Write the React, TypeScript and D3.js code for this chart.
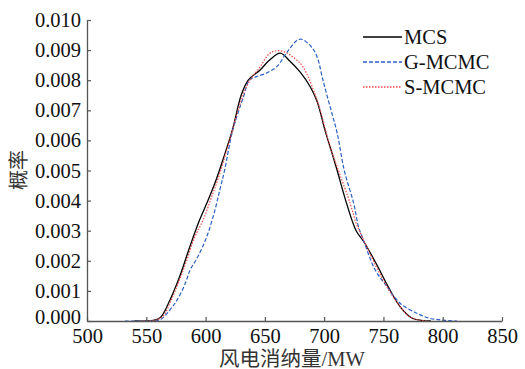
import React, { useEffect, useRef } from "react";
import * as d3 from "d3";

// x values (MW) and probability
const mcsX = [540, 550, 556, 562, 570, 578, 587, 595, 602, 609, 615, 623, 630, 636, 646, 654, 663, 671, 680, 688, 694, 701, 708, 711, 719, 727, 734, 744, 754, 764, 774, 782, 790];
const mcsY = [0, 0, 0.00002, 0.00012, 0.0007, 0.00146, 0.0025, 0.00336, 0.0040, 0.0047, 0.0054, 0.0064, 0.0075, 0.0080, 0.00834, 0.00867, 0.0089, 0.00864, 0.00826, 0.0078, 0.0073, 0.0063, 0.0054, 0.0050, 0.0039, 0.0030, 0.0026, 0.0019, 0.00114, 0.00048, 0.0001, 0.00002, 0];

const gX = [532, 550, 556, 562, 570, 576, 583, 587, 593, 601, 608, 612, 616, 623, 632, 637, 643, 651, 660, 668, 677, 681, 689, 694, 699, 705, 711, 717, 725, 729, 733, 743, 753, 764, 778, 789, 800, 812];
const gY = [0, 0, 0.00001, 0.00005, 0.00037, 0.0007, 0.00126, 0.0017, 0.0021, 0.0028, 0.0037, 0.00435, 0.0050, 0.00635, 0.00745, 0.0080, 0.00812, 0.00823, 0.00845, 0.00889, 0.00932, 0.00936, 0.00912, 0.00878, 0.0080, 0.00712, 0.00624, 0.0050, 0.0039, 0.00313, 0.0027, 0.0017, 0.00114, 0.00059, 0.00026, 0.00009, 0.00003, 0];

const sX = [545, 552, 558, 564, 571, 578, 584, 591, 598, 604, 612, 621, 629, 636, 646, 654, 660, 666, 674, 682, 694, 705, 713, 722, 727, 732, 744, 753, 764, 772, 780, 788];
const sY = [0, 0, 0.00003, 0.00015, 0.0007, 0.00136, 0.0020, 0.0028, 0.00336, 0.0040, 0.0049, 0.0061, 0.0072, 0.0079, 0.00845, 0.00889, 0.00898, 0.00895, 0.00876, 0.00845, 0.00734, 0.0058, 0.0049, 0.0039, 0.00325, 0.0028, 0.0018, 0.00114, 0.00048, 0.00014, 0.00003, 0];

const xTicks = [500, 550, 600, 650, 700, 750, 800, 850];
const yTicks = [0, 0.001, 0.002, 0.003, 0.004, 0.005, 0.006, 0.007, 0.008, 0.009, 0.01];

const seriesNames = ["MCS", "G-MCMC", "S-MCMC"];
const seriesColors = ["#000000", "#2a5fc4", "#f04848"];
const seriesDash = ["none", "4,2", "1.5,1.5"];

const W = 525;
const H = 369;
const serif = "'Liberation Serif', 'Times New Roman', serif";

export default function App() {
  const xRef = useRef<SVGGElement>(null);
  const yRef = useRef<SVGGElement>(null);

  const x = d3.scaleLinear().domain([500, 850]).range([87, 502]);
  const y = d3.scaleLinear().domain([0, 0.01]).range([321, 20]);

  const line = d3
    .line<[number, number]>()
    .x((d) => x(d[0]))
    .y((d) => Math.min(y(d[1]), y(0)))
    .curve(d3.curveCatmullRom.alpha(0.5));

  const series = [
    d3.zip(mcsX, mcsY) as [number, number][],
    d3.zip(gX, gY) as [number, number][],
    d3.zip(sX, sY) as [number, number][],
  ];

  useEffect(() => {
    const gx = d3.select(xRef.current!);
    gx.call(
      d3
        .axisBottom(x)
        .tickValues(xTicks)
        .tickSizeInner(-4)
        .tickSizeOuter(0)
        .tickPadding(7)
        .tickFormat(d3.format("d"))
    );
    const gy = d3.select(yRef.current!);
    gy.call(
      d3
        .axisLeft(y)
        .tickValues(yTicks)
        .tickSizeInner(-4)
        .tickSizeOuter(0)
        .tickPadding(6)
        .tickFormat(d3.format(".3f"))
    );
    [gx, gy].forEach((g) => {
      g.attr("font-family", serif).attr("font-size", 20.5);
      g.selectAll("path.domain").attr("stroke", "#555").attr("stroke-width", 1.3);
      g.selectAll(".tick line").attr("stroke", "#555").attr("stroke-width", 1.2);
      g.selectAll(".tick text").attr("fill", "#111");
    });
    // lift the 0.000 label off the x axis, as in the figure
    gy.selectAll<SVGGElement, number>(".tick")
      .filter((d) => d === 0)
      .select("text")
      .attr("y", -4);
    // eslint-disable-next-line
  }, []);

  return (
    <svg
      width={W}
      height={H}
      style={{ position: "absolute", left: 0, top: 0, background: "#fff" }}
    >
      {series.map((s, i) => (
        <path
          key={seriesNames[i]}
          d={line(s) || ""}
          fill="none"
          stroke={seriesColors[i]}
          strokeWidth={i === 0 ? 1.3 : 1.2}
          strokeDasharray={seriesDash[i]}
        />
      ))}
      <g ref={xRef} transform={`translate(0,${y(0)})`} />
      <g ref={yRef} transform={`translate(${x(500)},0)`} />

      {seriesNames.map((n, i) => (
        <g key={n} transform={`translate(363,${37 + i * 25})`}>
          <line
            x1={0}
            x2={39}
            y1={0}
            y2={0}
            stroke={seriesColors[i]}
            strokeWidth={1.3}
            strokeDasharray={seriesDash[i]}
          />
          <text x={41} y={7} fontFamily={serif} fontSize={20.5} fill="#111">
            {n}
          </text>
        </g>
      ))}

      <text
        x={292}
        y={366}
        textAnchor="middle"
        fontFamily="'Liberation Serif', 'Noto Sans CJK SC', serif"
        fontSize={20.5}
        fill="#333"
      >
        风电消纳量/MW
      </text>
      <text
        transform="translate(26,170) rotate(-90)"
        textAnchor="middle"
        fontFamily="'Noto Sans CJK SC', sans-serif"
        fontSize={20}
        fill="#333"
      >
        概率
      </text>
    </svg>
  );
}
